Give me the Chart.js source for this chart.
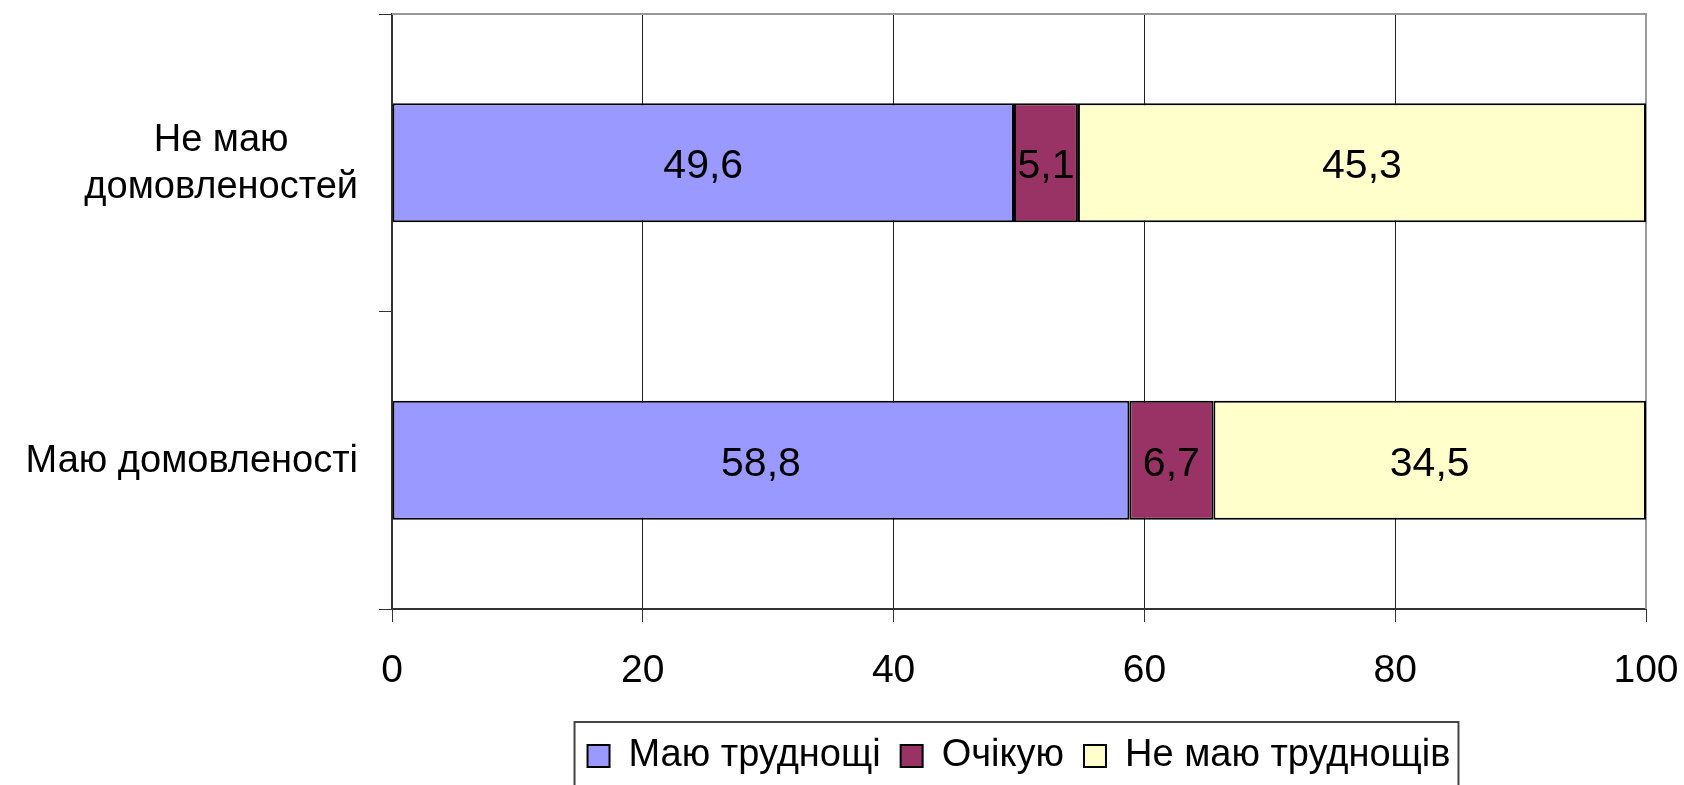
<!DOCTYPE html>
<html lang="uk">
<head>
<meta charset="utf-8">
<title>Труднощі та домовленості</title>
<script src="https://cdn.jsdelivr.net/npm/chart.js@4.4.1/dist/chart.umd.min.js"></script>
<style>
  html, body { margin: 0; padding: 0; background: #fff; }
  #wrap { width: 1684px; height: 785px; }
</style>
</head>
<body>
<div id="wrap"><canvas id="chart"></canvas></div>
<script>
// Категорії (зверху вниз) і частки відповідей, %
const categories = [['Не маю', 'домовленостей'], 'Маю домовленості'];
const seriesNames = ['Маю труднощі', 'Очікую', 'Не маю труднощів'];
const hasDifficulties = [49.6, 58.8];
const expecting = [5.1, 6.7];
const noDifficulties = [45.3, 34.5];
const xTickValues = [0, 20, 40, 60, 80, 100];

const seriesColors = ['#9999ff', '#993366', '#ffffcc'];
const FONT = '"Liberation Sans", Arial, sans-serif';
const LINE = 47;
const LEGEND_SIZE = 38;
const LEGEND_BOX = 22;

const fmt = v => v.toFixed(1).replace('.', ',');

// Значення всередині кожного сегмента
const valueLabels = {
  id: 'valueLabels',
  afterDatasetsDraw(chart) {
    const ctx = chart.ctx;
    ctx.save();
    ctx.font = '41px ' + FONT;
    ctx.fillStyle = '#000';
    ctx.textAlign = 'center';
    ctx.textBaseline = 'middle';
    chart.data.datasets.forEach((ds, i) => {
      chart.getDatasetMeta(i).data.forEach((bar, j) => {
        ctx.fillText(fmt(ds.data[j]), (bar.x + bar.base) / 2, bar.y + 4);
      });
    });
    ctx.restore();
  }
};

// Підписи категорій: рядки центровані між собою, блок притиснутий праворуч
const categoryLabels = {
  id: 'categoryLabels',
  afterDraw(chart) {
    const ctx = chart.ctx;
    const yScale = chart.scales.y;
    const right = chart.chartArea.left - 34;
    ctx.save();
    ctx.font = '38px ' + FONT;
    ctx.fillStyle = '#000';
    ctx.textAlign = 'center';
    ctx.textBaseline = 'middle';
    categories.forEach((label, i) => {
      const lines = Array.isArray(label) ? label : [label];
      const widest = Math.max(...lines.map(t => ctx.measureText(t).width));
      const cx = right - widest / 2;
      const top = yScale.getPixelForValue(i) - (lines.length - 1) * LINE / 2 + 1;
      lines.forEach((t, k) => ctx.fillText(t, cx, top + k * LINE));
    });
    ctx.restore();
  }
};

// Сіра рамка зверху і справа, рамка навколо легенди
const frame = {
  id: 'frame',
  beforeDatasetsDraw(chart) {
    const {ctx, chartArea: a} = chart;
    ctx.save();
    ctx.strokeStyle = '#999';
    ctx.lineWidth = 2;
    ctx.beginPath();
    ctx.moveTo(a.left, a.top);
    ctx.lineTo(a.right, a.top);
    ctx.lineTo(a.right, a.bottom);
    ctx.stroke();
    ctx.restore();
  },
  afterDraw(chart) {
    const ctx = chart.ctx;
    const boxes = chart.legend.legendHitBoxes;
    if (!boxes || !boxes.length) return;
    const first = boxes[0], last = boxes[boxes.length - 1];
    ctx.save();
    ctx.font = LEGEND_SIZE + 'px ' + FONT;
    const lastText = ctx.measureText(seriesNames[seriesNames.length - 1]).width;
    const left = first.left - 13;
    const right = last.left + LEGEND_BOX + LEGEND_SIZE / 2 + lastText + 8;
    const top = first.top + LEGEND_SIZE / 2 - 34;
    ctx.strokeStyle = '#444';
    ctx.lineWidth = 2;
    ctx.strokeRect(left, top, right - left, 90);
    ctx.restore();
  }
};

const ctx = document.getElementById('chart').getContext('2d');
new Chart(ctx, {
  type: 'bar',
  data: {
    labels: categories,
    datasets: [
      { label: seriesNames[0], data: hasDifficulties, backgroundColor: seriesColors[0] },
      { label: seriesNames[1], data: expecting, backgroundColor: seriesColors[1] },
      { label: seriesNames[2], data: noDifficulties, backgroundColor: seriesColors[2] }
    ].map(ds => Object.assign(ds, {
      borderColor: '#000',
      borderWidth: 2,
      borderSkipped: false,
      barPercentage: 1,
      categoryPercentage: 0.4
    }))
  },
  options: {
    indexAxis: 'y',
    responsive: true,
    maintainAspectRatio: false,
    animation: false,
    devicePixelRatio: 1,
    layout: { padding: { left: 392, right: 38, top: 14, bottom: 0 } },
    scales: {
      x: {
        stacked: true,
        min: 0,
        max: 100,
        afterBuildTicks: scale => { scale.ticks = xTickValues.map(v => ({ value: v })); },
        afterFit: scale => { scale.height = 108; },
        ticks: {
          color: '#000',
          padding: 3,
          font: { family: FONT, size: 39, lineHeight: 92 / 39 }
        },
        grid: {
          color: c => (c.tick && (c.tick.value === 0 || c.tick.value === 100)) ? 'rgba(0,0,0,0)' : '#222',
          lineWidth: 1,
          tickColor: '#333',
          tickLength: 13
        },
        border: { color: '#333', width: 2 }
      },
      y: {
        stacked: true,
        afterFit: scale => { scale.width = 0; },
        ticks: { display: false },
        grid: {
          offset: true,
          drawOnChartArea: false,
          drawTicks: true,
          tickLength: 13,
          tickColor: '#333'
        },
        border: { color: '#333', width: 2 }
      }
    },
    plugins: {
      legend: {
        position: 'bottom',
        labels: {
          color: '#000',
          boxWidth: LEGEND_BOX,
          boxHeight: LEGEND_BOX,
          padding: 20,
          font: { family: FONT, size: LEGEND_SIZE }
        }
      },
      tooltip: { enabled: false }
    }
  },
  plugins: [valueLabels, categoryLabels, frame]
});
</script>
</body>
</html>
